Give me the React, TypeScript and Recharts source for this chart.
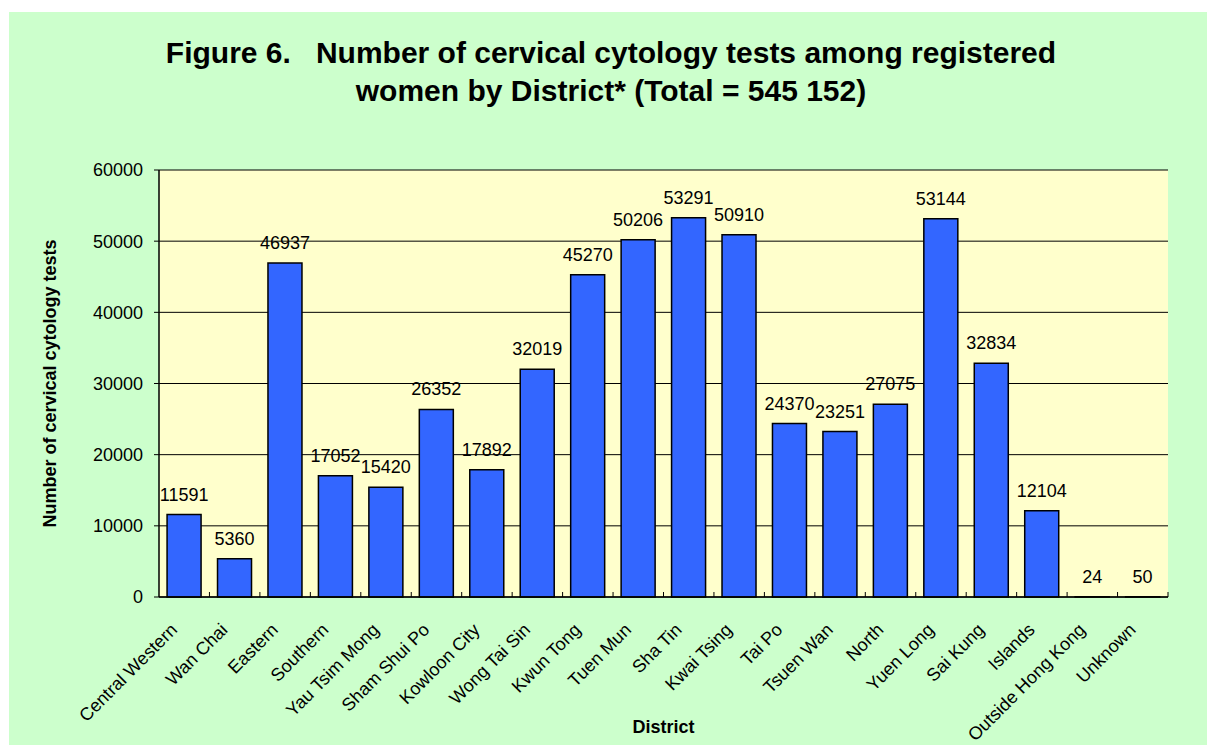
import React from 'react';
import { Bar, BarChart, CartesianGrid, LabelList, XAxis, YAxis } from 'recharts';

const districts = [
    'Central Western', 'Wan Chai', 'Eastern', 'Southern', 'Yau Tsim Mong',
    'Sham Shui Po', 'Kowloon City', 'Wong Tai Sin', 'Kwun Tong', 'Tuen Mun',
    'Sha Tin', 'Kwai Tsing', 'Tai Po', 'Tsuen Wan', 'North',
    'Yuen Long', 'Sai Kung', 'Islands', 'Outside Hong Kong', 'Unknown',
];

const tests = [
    11591, 5360, 46937, 17052, 15420,
    26352, 17892, 32019, 45270, 50206,
    53291, 50910, 24370, 23251, 27075,
    53144, 32834, 12104, 24, 50,
];

const yTicks = [0, 10000, 20000, 30000, 40000, 50000, 60000];

const data = districts.map((district, i) => ({ district, tests: tests[i] }));

const CHART_W = 1198;
const CHART_H = 733;
const PLOT_LEFT = 150;
const PLOT_RIGHT = 1159;
const PLOT_TOP = 158;
const PLOT_BOTTOM = 585;
const STEP = (PLOT_RIGHT - PLOT_LEFT) / districts.length;

const FONT = '"Liberation Sans", Arial, sans-serif';

const DistrictTick = (props: any) => {
    const { x, y, payload } = props;
    const tx = x - 6;
    const ty = y + 34;
    return (
        <g>
            <line x1={x + STEP / 2} x2={x + STEP / 2} y1={y} y2={y - 5} stroke="#000" />
            <text
                x={tx}
                y={ty}
                transform={`rotate(-45, ${tx}, ${ty})`}
                textAnchor="end"
                fontSize={18}
                fill="#000"
            >
                {payload.value}
            </text>
        </g>
    );
};

const App: React.FC = () => {
    return (
        <div
            style={{
                position: 'absolute',
                left: 9,
                top: 12,
                width: CHART_W,
                height: CHART_H,
                background: '#CCFFCC',
                fontFamily: FONT,
            }}
        >
            <div
                style={{
                    position: 'absolute',
                    top: 22,
                    left: 3,
                    width: CHART_W,
                    textAlign: 'center',
                    fontSize: 30,
                    fontWeight: 'bold',
                    lineHeight: '38px',
                    whiteSpace: 'pre',
                    color: '#000',
                }}
            >
                {'Figure 6.   Number of cervical cytology tests among registered\nwomen by District* (Total = 545 152)'}
            </div>
            <BarChart
                width={CHART_W}
                height={CHART_H}
                data={data}
                margin={{ top: PLOT_TOP, right: CHART_W - PLOT_RIGHT, bottom: 28, left: 20 }}
                barCategoryGap="16%"
                style={{ position: 'absolute', left: 0, top: 0 }}
            >
                <CartesianGrid horizontal vertical={false} stroke="#000" fill="#FFFFCC" fillOpacity={1} />
                <XAxis
                    dataKey="district"
                    interval={0}
                    height={CHART_H - PLOT_BOTTOM - 28}
                    tickSize={0}
                    tickMargin={0}
                    tick={<DistrictTick />}
                    axisLine={{ stroke: '#000', strokeWidth: 1.5 }}
                    label={{
                        content: () => (
                            <text
                                x={(PLOT_LEFT + PLOT_RIGHT) / 2}
                                y={721}
                                textAnchor="middle"
                                fontSize={18}
                                fontWeight="bold"
                                fill="#000"
                            >
                                District
                            </text>
                        ),
                    }}
                />
                <XAxis xAxisId="top" dataKey="district" orientation="top" height={0} tick={false} tickLine={false} axisLine={{ stroke: '#808080', strokeWidth: 2 }} />
                <YAxis
                    domain={[0, 60000]}
                    ticks={yTicks}
                    width={PLOT_LEFT - 20}
                    tickSize={5}
                    tickMargin={11}
                    tick={{ fontSize: 18, fill: '#000' }}
                    tickLine={{ stroke: '#000' }}
                    axisLine={{ stroke: '#000', strokeWidth: 1.5 }}
                    label={{
                        content: () => (
                            <text
                                x={47}
                                y={(PLOT_TOP + PLOT_BOTTOM) / 2}
                                transform={`rotate(-90, 47, ${(PLOT_TOP + PLOT_BOTTOM) / 2})`}
                                textAnchor="middle"
                                fontSize={18}
                                fontWeight="bold"
                                fill="#000"
                            >
                                Number of cervical cytology tests
                            </text>
                        ),
                    }}
                />
                <YAxis yAxisId="right" orientation="right" width={0} domain={[0, 60000]} tick={false} tickLine={false} axisLine={{ stroke: '#808080', strokeWidth: 2 }} />
                <Bar dataKey="tests" fill="#3366FF" stroke="#000" strokeWidth={1.5} isAnimationActive={false}>
                    <LabelList dataKey="tests" position="top" offset={14} fontSize={18} fill="#000" />
                </Bar>
            </BarChart>
        </div>
    );
};

export default App;
